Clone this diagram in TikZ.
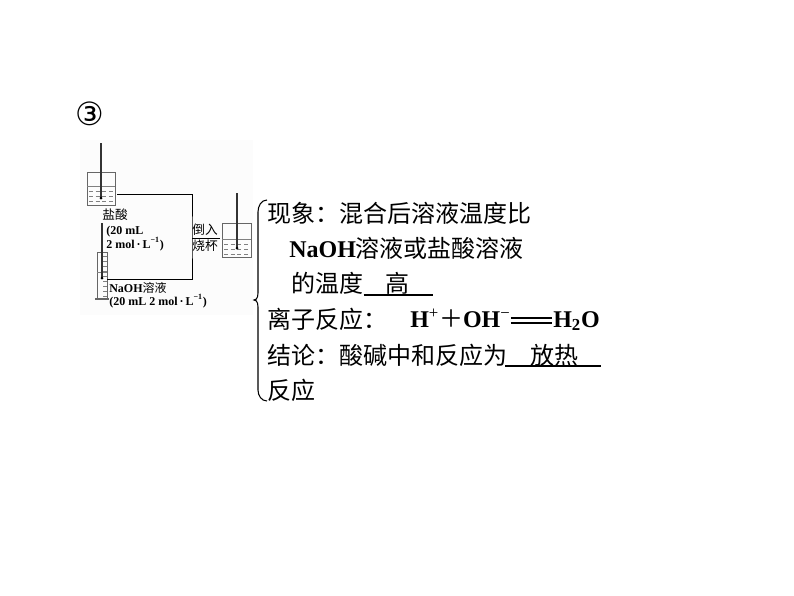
\documentclass[tikz,border=0pt]{standalone}
\usepackage{fontspec}
\setmainfont{Liberation Serif}
\newfontfamily\cjk{Noto Sans CJK SC}
\newfontfamily\symfont{DejaVu Sans}
\usetikzlibrary{positioning}

\tikzset{
  bigtext/.style={anchor=base west, inner sep=0pt, font=\fontsize{18pt}{18pt}\selectfont\cjk},
  bigbold/.style={anchor=base west, inner sep=0pt, font=\fontsize{18pt}{18pt}\selectfont\bfseries},
  smalltext/.style={anchor=base west, inner sep=0pt, font=\fontsize{9pt}{9pt}\selectfont\bfseries},
  smallcjk/.style={anchor=base, inner sep=0pt, font=\fontsize{9.5pt}{9pt}\selectfont\cjk},
  glass/.style={draw=black!60, line width=0.5pt},
  liquid/.style={draw=black!50, line width=0.4pt},
  thermo/.style={draw=black!80, line width=1.2pt},
  pipe/.style={draw=black, line width=0.7pt},
  blank/.style={draw=black, line width=0.8pt}
}

\begin{document}
\begin{tikzpicture}[x=0.75pt, y=-0.75pt]
\useasboundingbox (0,0) rectangle (794,596);

\fill[black!1] (80,140) rectangle (253,315);

\node[inner sep=0pt, font=\fontsize{24pt}{24pt}\selectfont\symfont] (mark) at (90,114) {③};

% first beaker
\draw[glass] (87,172) -- (87,205) -- (115,205) -- (115,172) -- cycle;
\draw[liquid] (87,186) -- (115,186);
\foreach \y in {191,196,201} {
  \draw[liquid, dash pattern=on 3pt off 2pt] (89,\y) -- (114,\y);
}
\draw[thermo] (101,143) -- (101,198);
\fill (101,198) circle (1.5);

% cylinder
\draw[glass, line width=0.7pt] (97,252) -- (97,298) -- (107,298) -- (107,252) -- cycle;
\draw[glass, line width=1pt] (95,299) -- (109,299);
\draw[liquid] (97,272) -- (107,272);
\foreach \y in {256,261,...,296} {
  \draw[liquid] (103,\y) -- (107,\y);
}
\draw[thermo] (102,223) -- (102,278);
\fill (102,278) circle (1.5);

% last beaker
\draw[glass] (222,223) -- (222,257) -- (251,257) -- (251,223) -- cycle;
\draw[liquid] (222,239) -- (251,239);
\foreach \y in {244,249,254} {
  \draw[liquid, dash pattern=on 3pt off 2pt] (224,\y) -- (250,\y);
}
\draw[thermo] (237,193) -- (237,248);
\fill (237,248) circle (1.5);

\coordinate (acidout) at (117,194);
\coordinate (baseout) at (107,279);
\coordinate (corner) at (192,238);
\coordinate (mixin) at (220,238);
\draw[pipe] (acidout) -| (corner) |- (baseout);
\draw[pipe] (corner) -- (mixin);

\node[smallcjk] (acidname) at (115,219) {盐酸};
\node[smalltext] (acidvol) at (106,234) {(20 mL};
\node[smalltext] (acidconc) at (106,248) {2 mol\,·\,L\textsuperscript{−1})};
\node[smallcjk] (pourup) at (205,234) {倒入};
\node[smallcjk] (pourdown) at (205,250) {烧杯};
\node[smalltext] (basename) at (109,292) {NaOH{\cjk\mdseries 溶液}};
\node[smalltext] (baseconc) at (109,305) {(20 mL 2 mol\,·\,L\textsuperscript{−1})};

% big brace
\draw[line width=0.8pt] (267,200) to[out=180, in=90] (258,212) -- (258,290)
  to[out=270, in=0] (254,300) to[out=0, in=90] (258,310) -- (258,390)
  to[out=270, in=180] (267,401);

\node[bigtext] (lineA) at (267,222) {现象：混合后溶液温度比};
\node[bigbold] (naoh) at (289,257) {NaOH{\cjk\mdseries 溶液或盐酸溶液}};
\node[bigtext] (lineC) at (291,292) {的温度};
\node[bigtext] (high) at (385,292) {高};
\node[bigtext] (lineD) at (267,328) {离子反应：};
\node[bigbold] (ion) at (410,327) {H\textsuperscript{\mdseries +}{\cjk\mdseries ＋}OH\textsuperscript{\mdseries −}};
\node[bigbold] (water) at (553,327) {H\textsubscript{2}O};
\node[bigtext] (lineE) at (267,364) {结论：酸碱中和反应为};
\node[bigtext] (heat) at (530,364) {放热};
\node[bigtext] (lineF) at (267,399) {反应};

\draw[blank] (lineC.base east) ++(0,3) coordinate (highfrom) -- (433,295);
\draw[blank] (505,366) -- (601,366);
\draw[line width=0.8pt] (ion.base east) ++(0,-9) coordinate (eqtop) -- (552,318);
\draw[line width=0.8pt] (ion.base east) ++(0,-4) coordinate (eqlow) -- (552,323);

\end{tikzpicture}
\end{document}
